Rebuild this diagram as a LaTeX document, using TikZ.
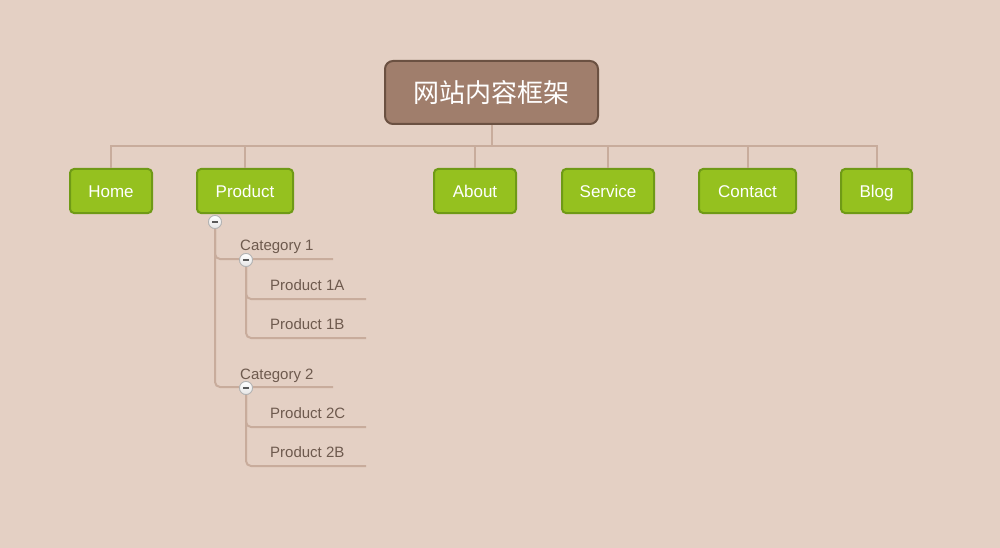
\documentclass[tikz,border=0pt]{standalone}
\usepackage{fontspec}
\setmainfont{Liberation Sans}
\newfontfamily\cjk{Noto Sans CJK SC}
\usepackage{tikz}

\definecolor{bg}{HTML}{E4D0C4}
\definecolor{linkc}{HTML}{C8AC9C}
\definecolor{rootfill}{HTML}{A07E6C}
\definecolor{rootline}{HTML}{6B5142}
\definecolor{menufill}{HTML}{95C11F}
\definecolor{menuline}{HTML}{6F9A16}
\definecolor{leaftext}{HTML}{6E5A4E}

\tikzset{
  rootbox/.style={draw=rootline, line width=2pt, fill=rootfill, rounded corners=8pt,
    minimum width=213pt, minimum height=63pt, text=white, font=\cjk\fontsize{26}{30}\selectfont},
  menubox/.style={draw=menuline, line width=2pt, fill=menufill, rounded corners=4pt,
    minimum height=44pt, text height=12.5pt, text depth=0.5pt, text=white,
    font=\fontsize{17}{20}\selectfont},
  link/.style={draw=linkc, line width=2pt},
  treeline/.style={draw=linkc, line width=2pt, rounded corners=5pt},
  leaf/.style={anchor=base west, text=leaftext, inner sep=0pt, font=\fontsize{15}{18}\selectfont},
  toggle/.style={circle, draw=black!30, line width=0.8pt, top color=white, bottom color=black!10,
    minimum size=13pt, inner sep=0pt}
}

\begin{document}
\begin{tikzpicture}[x=1pt, y=-1pt]
    % Arka plan
    \fill[bg] (0,0) rectangle (1000,548);
    \useasboundingbox (0,0) rectangle (1000,548);

    % Kok dugum
    \node[rootbox] (root) at (491.5,92.5) {网站内容框架};
    \coordinate (bus) at (491.5,146);

    % Menu kutulari
    \node[menubox, minimum width=82pt] (home) at (111,191) {Home};
    \node[menubox, minimum width=96pt] (product) at (245,191) {Product};
    \node[menubox, minimum width=82pt] (about) at (475,191) {About};
    \node[menubox, minimum width=92pt] (service) at (608,191) {Service};
    \node[menubox, minimum width=97pt] (contact) at (747.5,191) {Contact};
    \node[menubox, minimum width=71pt] (blog) at (876.5,191) {Blog};

    \draw[link] (root.south) -- (bus);
    \foreach \m in {home,product,about,service,contact,blog}
        \draw[link] (\m.north) |- (bus);

    % Alt agac
    \node[toggle] (t0) at (215,222) {};
    \coordinate (cat1line) at (333,259);
    \coordinate (cat2line) at (333,387);
    \draw[treeline] (t0.south) |- (cat1line);
    \draw[treeline] (t0.south) |- (cat2line);
    \node[leaf] (cat1) at (240,250.5) {Category 1};
    \node[leaf] (cat2) at (240,379) {Category 2};

    \node[toggle] (t1) at (246,260) {};
    \coordinate (p1aline) at (366,299);
    \coordinate (p1bline) at (366,338);
    \draw[treeline] (t1.south) |- (p1aline);
    \draw[treeline] (t1.south) |- (p1bline);
    \node[leaf] (p1a) at (270,290) {Product 1A};
    \node[leaf] (p1b) at (270,329) {Product 1B};

    \node[toggle] (t2) at (246,388) {};
    \coordinate (p2cline) at (366,427);
    \coordinate (p2bline) at (366,466);
    \draw[treeline] (t2.south) |- (p2cline);
    \draw[treeline] (t2.south) |- (p2bline);
    \node[leaf] (p2c) at (270,418.5) {Product 2C};
    \node[leaf] (p2b) at (270,457.5) {Product 2B};

    % Eksi isaretleri
    \foreach \t in {t0,t1,t2} {
        \node[toggle] at (\t) {};
        \fill[black!65] ([xshift=-3pt,yshift=-0.9pt]\t.center) rectangle ([xshift=3pt,yshift=0.9pt]\t.center);
    }
\end{tikzpicture}
\end{document}
